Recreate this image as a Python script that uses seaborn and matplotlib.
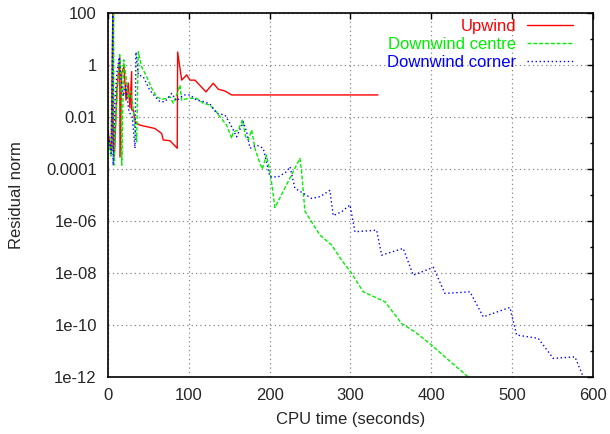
import numpy as np
import pandas as pd
import matplotlib
matplotlib.use("Agg")
import matplotlib.pyplot as plt
import seaborn as sns
from matplotlib.ticker import FixedLocator, FuncFormatter

# ---- data (CPU time in seconds, log10 of residual norm) ----
upwind_t = [0, 2, 4, 6, 6.2, 8, 11, 14.6, 14.9, 17, 19.8, 22.3, 25.1, 27.2, 29.3, 29.4,
            31.3, 33.4, 35.5, 39.6, 47.9, 58.1, 66.4, 68.4, 76.7, 85.7, 86.2, 91.2,
            97.4, 101.4, 107.6, 121.2, 130.3, 136.5, 144.8, 153.0, 334.0]
upwind_log = [-2.5, -3.0, -3.3, 2.0, -3.2, -3.5, -1.0, 0.3, -3.54, -0.3, -0.06, -1.35,
              -0.69, -1.65, -0.25, -1.73, -1.73, -2.18, -2.24, -2.31, -2.37, -2.44,
              -2.63, -2.88, -2.91, -3.2, 0.5, -0.58, -0.38, -0.58, -0.58, -1.03, -0.70,
              -0.93, -1.0, -1.15, -1.15]

centre_t = [0, 2, 4, 7, 7.3, 9, 12, 14.5, 16.5, 17.0, 19.5, 22.5, 25, 28, 31, 33, 35.5,
            37.5, 41.7, 47.9, 54.1, 60.3, 66.4, 72.6, 76.7, 80.8, 85.7, 89.1, 91.2, 99.4,
            109.7, 117.9, 126.2, 132.4, 138.6, 146.8, 153.0, 155.0, 161.2, 166.2, 170.4,
            173.6, 177.8, 181.8, 186.0, 191.0, 196.1, 201.0, 206.6, 237.5, 239.6, 243.7,
            252.0, 262.3, 276.7, 289.1, 301.5, 315.8, 342.7, 363.4, 379.8, 400.5, 419.0,
            445.7]
centre_log = [-2.7, -3.1, -3.5, 2.0, -3.85, -2.5, -0.8, 0.4, -0.5, -3.85, 0.2, -0.5,
              -1.3, -1.0, -1.6, -2.3, -2.95, 0.51, -0.07, -0.45, -0.9, -1.22, -1.32,
              -1.28, -1.22, -1.47, -1.09, -0.77, -1.35, -1.28, -1.28, -1.47, -1.54,
              -1.73, -1.99, -2.31, -2.82, -2.57, -2.5, -2.12, -2.76, -2.88, -2.5, -3.2,
              -3.6, -4.0, -3.46, -4.19, -5.48, -3.59, -4.12, -5.62, -6.03, -6.54, -6.92,
              -7.5, -8.01, -8.72, -9.1, -9.94, -10.26, -10.77, -11.28, -11.99]

corner_t = [0, 2, 4, 6, 6.3, 8.5, 11, 14.0, 16, 19, 22, 26, 30, 33.5, 34.6, 37.5, 43.7,
            51.5, 60.3, 64.3, 70.5, 78.8, 85.0, 93.2, 101.4, 109.7, 117.9, 126.2, 134.5,
            144.7, 150.9, 159.2, 167.4, 171.6, 175.7, 184.0, 192.1, 200.4, 210.7, 221.1,
            225.2, 231.3, 241.6, 252.0, 262.3, 274.6, 278.7, 289.1, 299.4, 305.6, 332.4,
            338.6, 365.3, 377.7, 402.5, 416.9, 447.9, 464.3, 497.3, 505.6, 532.4, 550.9,
            577.8, 588.0]
corner_log = [-2.6, -3.0, -3.4, 2.0, -3.85, -1.5, -0.3, 0.3, -0.5, -1.2, -0.8, -1.8,
              -2.0, -3.2, 0.5, -0.38, -0.45, -0.96, -1.28, -1.41, -1.41, -1.09, -1.38,
              -1.15, -1.15, -1.35, -1.4, -1.5, -1.86, -1.92, -2.24, -2.76, -2.18, -2.57,
              -3.2, -3.08, -3.2, -4.3, -4.3, -4.1, -3.91, -4.74, -4.93, -5.13, -5.06,
              -4.82, -5.79, -5.64, -5.38, -6.41, -6.35, -7.31, -7.05, -8.08, -7.78,
              -8.78, -8.72, -9.68, -9.32, -10.38, -10.51, -11.28, -11.22, -11.99]

series_names = ["Upwind", "Downwind centre", "Downwind corner"]
x_ticks = [0, 100, 200, 300, 400, 500, 600]
y_tick_labels = ["1e-12", "1e-10", "1e-08", "1e-06", "0.0001", "0.01", "1", "100"]
y_tick_exps = [-12, -10, -8, -6, -4, -2, 0, 2]

frames = []
for name, t, lg in zip(series_names, [upwind_t, centre_t, corner_t],
                       [upwind_log, centre_log, corner_log]):
    frames.append(pd.DataFrame({"t": t, "r": np.power(10.0, lg), "series": name}))
df = pd.concat(frames, ignore_index=True)

sns.set_style("white")
plt.rcParams["font.family"] = ["Liberation Sans", "DejaVu Sans"]

fig = plt.figure(figsize=(6.1, 4.34), dpi=100)
ax = fig.add_axes([0.177, 0.131, 0.795, 0.839])

colors = {"Upwind": "#ff0000", "Downwind centre": "#00ee00", "Downwind corner": "#0000ff"}
styles = {"Upwind": "-", "Downwind centre": (0, (2.8, 1.4)), "Downwind corner": (0, (1, 1.9))}
for name in series_names:
    sub = df[df["series"] == name]
    sns.lineplot(data=sub, x="t", y="r", ax=ax, estimator=None, sort=False,
                 color=colors[name], linewidth=1.0, linestyle=styles[name], label=name)

ax.set_yscale("log")
ax.set_xlim(0, 600)
ax.set_ylim(1e-12, 1e2)
ax.xaxis.set_major_locator(FixedLocator(x_ticks))
ax.yaxis.set_major_locator(FixedLocator([10.0 ** e for e in y_tick_exps]))
ax.yaxis.set_minor_locator(FixedLocator([10.0 ** e for e in range(-11, 2, 2)]))
lab = dict(zip(y_tick_exps, y_tick_labels))
ax.yaxis.set_major_formatter(FuncFormatter(lambda v, p: lab.get(int(round(np.log10(v))), "")))
ax.yaxis.set_minor_formatter(FuncFormatter(lambda v, p: ""))

ax.tick_params(which="both", direction="in", top=True, right=True, labelsize=12,
               width=1.0, color="black")
ax.tick_params(which="major", length=4.5, pad=8)
ax.tick_params(which="minor", length=2.5)
for s in ax.spines.values():
    s.set_color("black")
    s.set_linewidth(1.2)

ax.grid(True, which="major", color="#888888", linestyle=(0, (1, 2.5)), linewidth=0.9)
ax.set_xlabel("CPU time (seconds)", fontsize=12, labelpad=6)
ax.set_ylabel("Residual norm", fontsize=12, labelpad=16)

leg = ax.legend(loc="upper right", bbox_to_anchor=(0.973, 1.003), frameon=False,
                markerfirst=False, fontsize=12, handlelength=2.76, handletextpad=0.66,
                labelspacing=0.19, borderaxespad=0.0, labelcolor="linecolor")
for t in leg.get_texts():
    t.set_ha("right")

fig.savefig("out.png", dpi=100)
